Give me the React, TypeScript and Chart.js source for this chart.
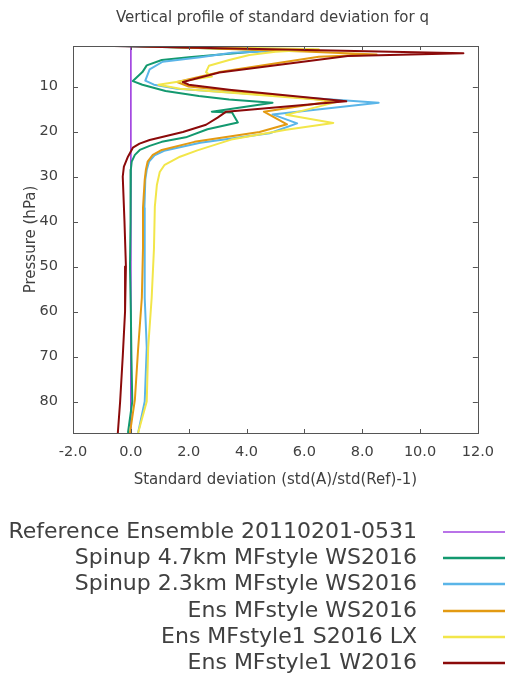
import { useEffect, useRef } from "react";
import { Chart, registerables } from "chart.js";

Chart.register(...registerables);

const CHART_TITLE = "Vertical profile of standard deviation for q";
const X_TITLE = "Standard deviation (std(A)/std(Ref)-1)";
const Y_TITLE = "Pressure (hPa)";

const xTicks = [-2, 0, 2, 4, 6, 8, 10, 12];
const yTicks = [10, 20, 30, 40, 50, 60, 70, 80];

const seriesLabels = [
  "Reference Ensemble 20110201-0531",
  "Spinup 4.7km MFstyle WS2016",
  "Spinup 2.3km MFstyle WS2016",
  "Ens MFstyle WS2016",
  "Ens MFstyle1 S2016 LX",
  "Ens MFstyle1 W2016",
];
const seriesColors = ["#a244e0", "#13996f", "#5ab5e8", "#e39a12", "#f2e64a", "#8b0a0a"];
const seriesWidths = [1, 2, 2, 2, 2, 2];

// Reference ensemble (zero line)
const refLevels = [1.3, 87];
const refValues = [0, 0];

// Spinup 4.7km MFstyle WS2016
const spin47Levels = [1, 1.9, 3.5, 4.1, 5.3, 6.8, 8.8, 9.6, 11, 12.1, 12.9, 13.6, 15.6, 15.8, 18, 19.5, 21.3, 22.3, 23.2, 24.1, 25.2, 26.7, 28.5, 30, 40, 50, 60, 70, 80, 87];
const spin47Values = [-0.2, 4.9, 2.0, 1.07, 0.55, 0.4, 0.07, 0.4, 1.2, 2.35, 3.4, 4.9, 2.8, 3.5, 3.7, 2.65, 1.9, 1.07, 0.65, 0.31, 0.14, 0.03, 0.0, 0.0, -0.02, -0.03, 0.0, 0.02, 0.05, -0.1];

// Spinup 2.3km MFstyle WS2016
const spin23Levels = [1, 1.8, 2.5, 3.5, 4.5, 6.2, 8.7, 9.6, 10.5, 13.6, 16.2, 18.2, 20.4, 22.5, 24.3, 25.3, 26.7, 28.5, 30.7, 37, 46, 57, 68, 80, 87];
const spin23Values = [-0.5, 6.3, 3.5, 2.4, 1.1, 0.65, 0.5, 0.8, 1.6, 8.57, 4.9, 5.75, 4.8, 2.4, 1.15, 0.82, 0.63, 0.55, 0.5, 0.47, 0.48, 0.48, 0.55, 0.48, 0.25];

// Ens MFstyle WS2016
const ensLevels = [1, 2.2, 2.9, 3.4, 6.8, 9.0, 10.0, 13.2, 15.6, 18.4, 20.1, 22.3, 24.1, 25.2, 26.7, 28.5, 30.7, 37, 46, 57, 68.5, 79.6, 87];
const ensValues = [0.2, 6.0, 8.5, 6.5, 3.06, 1.6, 2.0, 7.0, 4.6, 5.4, 4.45, 2.2, 1.07, 0.76, 0.58, 0.52, 0.48, 0.42, 0.42, 0.38, 0.25, 0.14, -0.03];

// Ens MFstyle1 S2016 LX
const ensLxLevels = [1, 1.7, 2.3, 3.0, 4.1, 5.4, 6.8, 7.8, 9.6, 10.5, 13.3, 16.3, 18.1, 19.6, 21.8, 24.2, 25.6, 27.4, 29.0, 31.9, 36.7, 46, 57, 68, 80, 87];
const ensLxValues = [0.6, 6.5, 5.0, 4.1, 3.4, 2.7, 2.6, 2.8, 0.95, 1.7, 7.2, 5.37, 7.0, 5.37, 3.47, 2.3, 1.7, 1.17, 1.0, 0.9, 0.83, 0.8, 0.72, 0.6, 0.55, 0.25];

// Ens MFstyle1 W2016
const ensWLevels = [1, 2.6, 3.2, 6.9, 9.0, 9.6, 10.7, 13.3, 15.6, 16.9, 18.5, 20.1, 21.9, 22.7, 23.6, 25.6, 27.8, 30, 40, 50, 60, 70, 80, 87];
const ensWValues = [-0.6, 11.5, 7.5, 3.06, 1.8, 2.0, 3.4, 7.45, 3.3, 3.0, 2.6, 1.8, 0.65, 0.3, 0.07, -0.1, -0.24, -0.28, -0.22, -0.17, -0.2, -0.28, -0.37, -0.45];

const seriesLevels = [refLevels, spin47Levels, spin23Levels, ensLevels, ensLxLevels, ensWLevels];
const seriesValues = [refValues, spin47Values, spin23Values, ensValues, ensLxValues, ensWValues];

const TEXT = "#404040";
const FRAME = "#555555";
const FONT = "'DejaVu Sans', sans-serif";

const framePlugin = {
  id: "profileFrame",
  afterDatasetsDraw(chart: any) {
    const { ctx, chartArea, scales } = chart;
    const { left, right, top, bottom } = chartArea;
    ctx.save();
    ctx.strokeStyle = FRAME;
    ctx.lineWidth = 1;
    ctx.strokeRect(Math.round(left) + 0.5, Math.round(top) + 0.5, Math.round(right - left), Math.round(bottom - top));
    ctx.beginPath();
    for (const v of xTicks) {
      const x = Math.round(scales.x.getPixelForValue(v)) + 0.5;
      ctx.moveTo(x, bottom);
      ctx.lineTo(x, bottom - 4);
      ctx.moveTo(x, top);
      ctx.lineTo(x, top + 4);
    }
    for (const v of yTicks) {
      const y = Math.round(scales.y.getPixelForValue(v)) + 0.5;
      ctx.moveTo(left, y);
      ctx.lineTo(left + 5, y);
      ctx.moveTo(right, y);
      ctx.lineTo(right - 5, y);
    }
    ctx.stroke();
    ctx.restore();
  },
  afterDraw(chart: any) {
    const { ctx, chartArea } = chart;
    ctx.save();
    ctx.fillStyle = TEXT;
    ctx.font = `15px ${FONT}`;
    ctx.textAlign = "center";
    ctx.textBaseline = "middle";
    ctx.fillText(CHART_TITLE, (chartArea.left + chartArea.right) / 2 - 3, 18);

    ctx.font = `22px ${FONT}`;
    ctx.textAlign = "right";
    seriesLabels.forEach((label, i) => {
      const y = Math.round(532 + i * 26.2);
      ctx.fillStyle = TEXT;
      ctx.fillText(label, 417, y);
      ctx.strokeStyle = seriesColors[i];
      ctx.lineWidth = seriesWidths[i] === 1 ? 1.5 : 2.5;
      ctx.beginPath();
      ctx.moveTo(443, y);
      ctx.lineTo(505, y);
      ctx.stroke();
    });
    ctx.restore();
  },
};

// reference drawn underneath, W2016 on top
const drawOrder = [6, 5, 4, 3, 2, 1];

export default function App() {
  const canvasRef = useRef<HTMLCanvasElement>(null);

  useEffect(() => {
    const canvas = canvasRef.current;
    if (!canvas) return;
    const datasets = seriesLabels.map((label, i) => ({
      label,
      data: seriesLevels[i].map((lvl, k) => ({ x: seriesValues[i][k], y: lvl })),
      borderColor: seriesColors[i],
      backgroundColor: seriesColors[i],
      borderWidth: seriesWidths[i],
      pointRadius: 0,
      tension: 0,
      fill: false,
      borderJoinStyle: "round" as const,
      order: drawOrder[i],
    }));

    const chart = new Chart(canvas, {
      type: "line",
      data: { datasets },
      options: {
        animation: false,
        responsive: false,
        devicePixelRatio: 1,
        indexAxis: "y",
        layout: { padding: { top: 46, right: 25, left: 0, bottom: 189 } },
        plugins: {
          legend: { display: false },
          title: { display: false },
          tooltip: { enabled: false },
        },
        scales: {
          x: {
            type: "linear",
            position: "bottom",
            min: -2,
            max: 12,
            grid: { display: false, drawTicks: false },
            border: { display: false },
            afterBuildTicks: (s: any) => {
              s.ticks = xTicks.map((v) => ({ value: v }));
            },
            afterFit: (s: any) => {
              s.height = 56;
            },
            ticks: {
              padding: 11,
              color: TEXT,
              font: { family: FONT, size: 14.5 },
              maxRotation: 0,
              autoSkip: false,
              callback: (v: any) => Number(v).toFixed(1),
            },
            title: {
              display: true,
              text: X_TITLE,
              color: TEXT,
              font: { family: FONT, size: 15 },
              padding: 0,
            },
          },
          y: {
            type: "linear",
            position: "left",
            min: 1,
            max: 87,
            reverse: true,
            grid: { display: false, drawTicks: false },
            border: { display: false },
            afterBuildTicks: (s: any) => {
              s.ticks = yTicks.map((v) => ({ value: v }));
            },
            afterFit: (s: any) => {
              s.width = 73;
            },
            ticks: {
              padding: 15,
              color: TEXT,
              font: { family: FONT, size: 14.5 },
              autoSkip: false,
            },
            title: {
              display: true,
              text: Y_TITLE,
              color: TEXT,
              font: { family: FONT, size: 15 },
              padding: { top: 22.5, bottom: 0 },
            },
          },
        },
      },
      plugins: [framePlugin],
    });
    return () => chart.destroy();
  }, []);

  return (
    <div style={{ position: "absolute", left: 0, top: 0, width: 505, height: 678, background: "#ffffff" }}>
      <canvas ref={canvasRef} width={505} height={678} style={{ display: "block", width: 505, height: 678 }} />
    </div>
  );
}
